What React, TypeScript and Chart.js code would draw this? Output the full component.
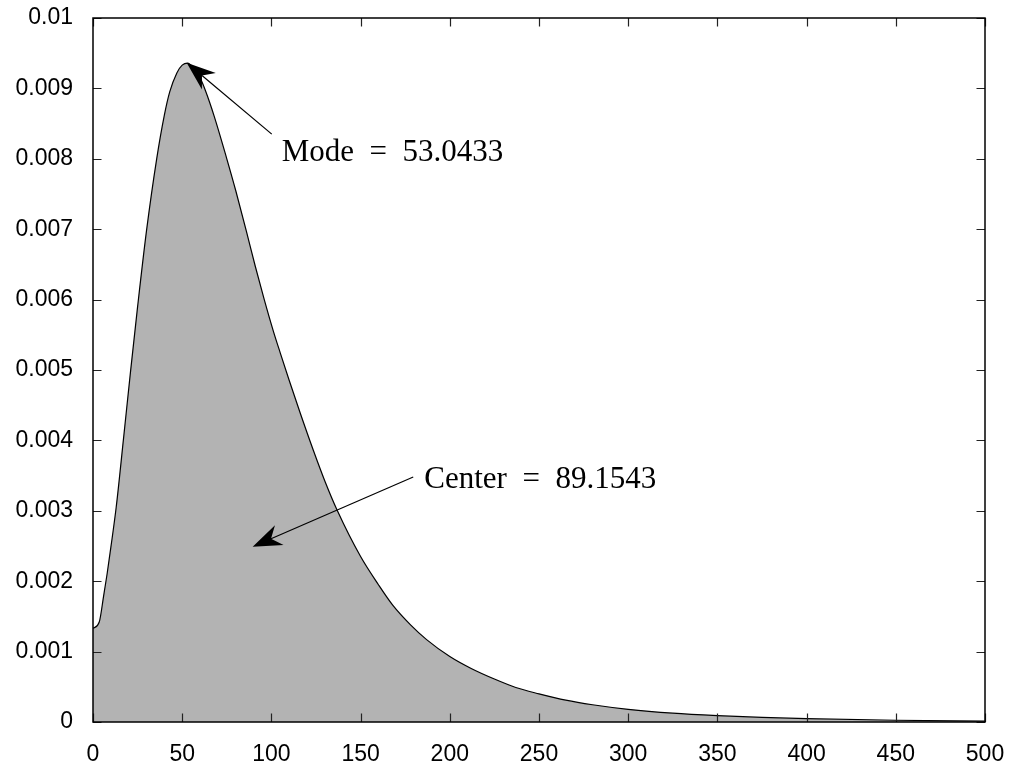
import React, { useEffect, useRef } from "react";
import { Chart, registerables } from "chart.js";

Chart.register(...registerables);

// Sampled density curve (x, y)
const xValues = [
  0, 3.5, 6, 8, 10, 13, 17, 21, 25, 30, 35.7, 40, 43, 47, 50, 53, 56, 60, 63, 68,
  75, 80, 86, 91, 96, 101, 105, 110, 116, 123.5, 130, 137, 150, 160, 168, 178,
  187, 200, 212, 225, 237, 250, 265, 280, 300, 325, 350, 375, 400, 450, 500,
];
const yValues = [
  0.00133, 0.00142, 0.0018, 0.00212, 0.00248, 0.00305, 0.004, 0.00497, 0.0059, 0.00698,
  0.008, 0.00862, 0.00895, 0.00922, 0.00933, 0.00936, 0.0093, 0.00915, 0.00897, 0.0086,
  0.008, 0.00755, 0.00697, 0.00647, 0.006, 0.00556, 0.00524, 0.00485, 0.0044, 0.00386,
  0.00342, 0.003, 0.00235, 0.00195, 0.00166, 0.00138, 0.00117, 0.00093, 0.00076, 0.00061,
  0.00049, 0.0004, 0.00031, 0.000245, 0.00018, 0.000125, 0.00009, 0.000065, 0.000047,
  0.000025, 0.000013,
];

const xTickLabels = ["0", "50", "100", "150", "200", "250", "300", "350", "400", "450", "500"];
const yTickLabels = [
  "0", "0.001", "0.002", "0.003", "0.004", "0.005", "0.006", "0.007", "0.008", "0.009", "0.01",
];

// Annotations (data coordinates)
const annotationTexts = ["Mode\u2002=\u200253.0433", "Center\u2002=\u200289.1543"];
const annotationTextPos = [
  [105.8, 0.00797],
  [185.7, 0.00332],
];
const arrowTails = [
  [100.2, 0.00835],
  [179.5, 0.00348],
];
const arrowTips = [
  [52.5, 0.009365],
  [89.5, 0.00249],
];

const framePlugin = {
  id: "frameAndNotes",
  afterDatasetsDraw(chart: any) {
    const { ctx, chartArea, scales } = chart;
    const xs = scales.x;
    const ys = scales.y;
    const { left, right, top, bottom } = chartArea;
    ctx.save();
    // ticks (inward, mirrored)
    ctx.strokeStyle = "#222";
    ctx.lineWidth = 1.2;
    const tl = 8.5;
    ctx.beginPath();
    xs.ticks.forEach((t: any) => {
      const px = Math.round(xs.getPixelForValue(t.value)) + 0.5;
      ctx.moveTo(px, bottom);
      ctx.lineTo(px, bottom - tl);
      ctx.moveTo(px, top);
      ctx.lineTo(px, top + tl);
    });
    ys.ticks.forEach((t: any) => {
      const py = Math.round(ys.getPixelForValue(t.value)) + 0.5;
      ctx.moveTo(left, py);
      ctx.lineTo(left + tl, py);
      ctx.moveTo(right, py);
      ctx.lineTo(right - tl, py);
    });
    ctx.stroke();
    // frame
    ctx.strokeStyle = "#000";
    ctx.lineWidth = 1.5;
    ctx.strokeRect(left, top, right - left, bottom - top);

    // arrows
    for (let i = 0; i < arrowTips.length; i++) {
      const x0 = xs.getPixelForValue(arrowTails[i][0]);
      const y0 = ys.getPixelForValue(arrowTails[i][1]);
      const x1 = xs.getPixelForValue(arrowTips[i][0]);
      const y1 = ys.getPixelForValue(arrowTips[i][1]);
      const dx = x0 - x1;
      const dy = y0 - y1;
      const len = Math.hypot(dx, dy);
      const ux = dx / len;
      const uy = dy / len;
      const nx = -uy;
      const ny = ux;
      const hl = 29;
      const hw = 10.8;
      const notch = 20;
      ctx.strokeStyle = "#000";
      ctx.lineWidth = 1.2;
      ctx.beginPath();
      ctx.moveTo(x0, y0);
      ctx.lineTo(x1 + ux * notch, y1 + uy * notch);
      ctx.stroke();
      ctx.fillStyle = "#000";
      ctx.beginPath();
      ctx.moveTo(x1, y1);
      ctx.lineTo(x1 + ux * hl + nx * hw, y1 + uy * hl + ny * hw);
      ctx.lineTo(x1 + ux * notch, y1 + uy * notch);
      ctx.lineTo(x1 + ux * hl - nx * hw, y1 + uy * hl - ny * hw);
      ctx.closePath();
      ctx.fill();
    }

    // texts
    ctx.fillStyle = "#000";
    ctx.font = '31px "Liberation Serif", serif';
    ctx.textAlign = "left";
    ctx.textBaseline = "alphabetic";
    for (let i = 0; i < annotationTexts.length; i++) {
      const px = xs.getPixelForValue(annotationTextPos[i][0]);
      const py = ys.getPixelForValue(annotationTextPos[i][1]);
      ctx.fillText(annotationTexts[i], px, py);
    }
    ctx.restore();
  },
};

export default function App() {
  const canvasRef = useRef<HTMLCanvasElement | null>(null);

  useEffect(() => {
    const canvas = canvasRef.current;
    if (!canvas) return;
    const points = xValues.map((x, i) => ({ x, y: yValues[i] }));
    const chart = new Chart(canvas, {
      type: "line",
      data: {
        datasets: [
          {
            data: points,
            borderColor: "#000",
            borderWidth: 1.2,
            backgroundColor: "rgb(179,179,179)",
            fill: "origin",
            pointRadius: 0,
            cubicInterpolationMode: "monotone",
          },
        ],
      },
      options: {
        animation: false,
        responsive: false,
        devicePixelRatio: 1,
        layout: { padding: { left: 0, right: 26, top: 18, bottom: 0 } },
        plugins: {
          legend: { display: false },
          tooltip: { enabled: false },
          title: { display: false },
        },
        scales: {
          x: {
            type: "linear",
            min: 0,
            max: 500,
            grid: { display: false, drawTicks: false },
            border: { display: false },
            ticks: {
              stepSize: 50,
              padding: 19,
              color: "#000",
              font: { family: '"Liberation Sans", Arial, sans-serif', size: 23 },
              maxRotation: 0,
              callback: (_v: any, i: number) => xTickLabels[i],
            },
            afterFit: (s: any) => {
              s.height = 46;
              s.paddingLeft = 0;
              s.paddingRight = 0;
            },
          },
          y: {
            type: "linear",
            min: 0,
            max: 0.01,
            grid: { display: false, drawTicks: false },
            border: { display: false },
            ticks: {
              stepSize: 0.001,
              padding: 20,
              color: "#000",
              font: { family: '"Liberation Sans", Arial, sans-serif', size: 23 },
              callback: (_v: any, i: number) => yTickLabels[i],
            },
            afterFit: (s: any) => {
              s.width = 93;
              s.paddingTop = 0;
              s.paddingBottom = 0;
            },
          },
        },
      },
      plugins: [framePlugin],
    });
    return () => chart.destroy();
  }, []);

  return (
    <div style={{ position: "absolute", left: 0, top: 0, width: 1011, height: 768, background: "#fff" }}>
      <canvas ref={canvasRef} width={1011} height={768} style={{ width: 1011, height: 768, display: "block" }} />
    </div>
  );
}
